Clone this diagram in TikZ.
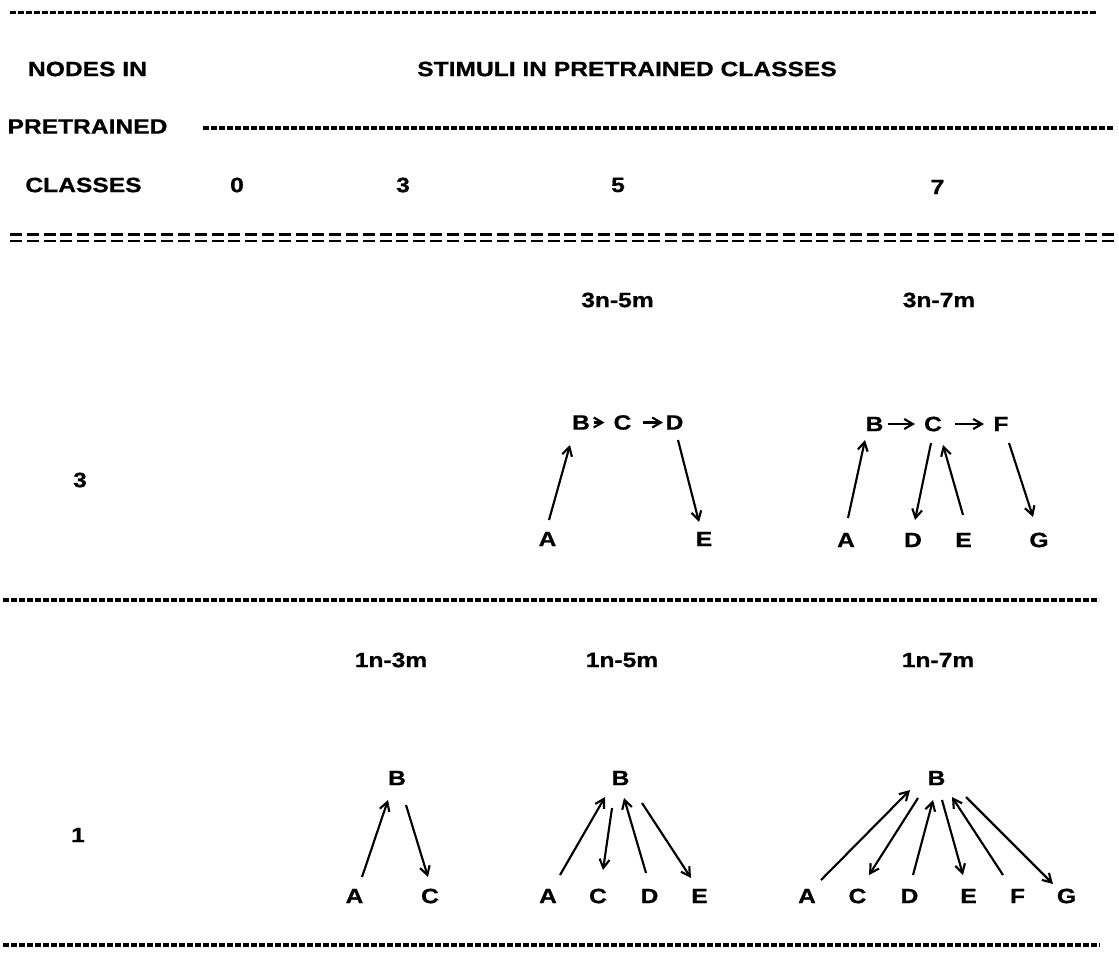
\documentclass[tikz,border=0pt]{standalone}
\usepackage{fontspec}
\setmainfont{Liberation Sans}[FakeStretch=1.19,BoldFeatures={FakeStretch=1.19,FakeBold=0.8}]
\usetikzlibrary{arrows.meta,calc}
\newcommand\myconn[4]{\draw[arr] ($(#1)+(#2)$) -- ($(#3)+(#4)$);}
\begin{document}
\begin{tikzpicture}[x=0.75pt,y=-0.75pt,
  lbl/.style={font=\fontsize{15.5}{18}\selectfont\bfseries, inner sep=0pt, text=black},
  arr/.style={-{Straight Barb[length=6.5pt,width=7.5pt,line width=1.6pt]}, line width=1.6pt},
  dline/.style={line width=2.4pt, dash pattern=on 4.6pt off 1.4pt},
  eqline/.style={line width=2pt, dash pattern=on 9pt off 3.6pt}]
\useasboundingbox (0,0) rectangle (1119,958);
\fill[white] (0,0) rectangle (1119,958);
% rules
\draw[dline] (10,12.5) -- (1097,12.5);
\draw[dline] (203,128) -- (1113,128);
\draw[eqline] (10,234.5) -- (1125,234.5);
\draw[eqline] (10,241) -- (1125,241);
\draw[dline] (3,600) -- (1099,600);
\draw[dline] (3,945) -- (1100,945);
% header
\node[lbl] (hNodes) at (87.5,69) {NODES IN};
\node[lbl] (hPre) at (87.5,126.5) {PRETRAINED};
\node[lbl] (hCls) at (83.5,185) {CLASSES};
\node[lbl] (hStim) at (627,69) {STIMULI IN PRETRAINED CLASSES};
\node[lbl] (h0) at (237,185) {0};
\node[lbl] (h3) at (403,185) {3};
\node[lbl] (h5) at (618,185) {5};
\node[lbl] (h7) at (937.5,187) {7};
% row labels
\node[lbl] (r3) at (80,480) {3};
\node[lbl] (r1) at (78,835) {1};
% row 3
\node[lbl] (t35) at (617.5,300) {3n-5m};
\node[lbl] (t37) at (939,300) {3n-7m};
\node[lbl] (p5B) at (581,422.5) {B};
\node[lbl] (p5C) at (622.5,422.5) {C};
\node[lbl] (p5D) at (674.5,422.5) {D};
\node[lbl] (p5A) at (547.5,539) {A};
\node[lbl] (p5E) at (704,539) {E};
\myconn{p5A}{1.5,-19}{p5B}{-11,22.5}
\myconn{p5B}{13,0}{p5C}{-18,0}
\myconn{p5C}{20.5,0}{p5D}{-11.5,0}
\myconn{p5D}{3.5,17.5}{p5E}{-5,-17}
\node[lbl] (q7B) at (874.5,424) {B};
\node[lbl] (q7C) at (933,424) {C};
\node[lbl] (q7F) at (1001,424) {F};
\node[lbl] (q7A) at (846,540) {A};
\node[lbl] (q7D) at (913,540) {D};
\node[lbl] (q7E) at (963.5,540) {E};
\node[lbl] (q7G) at (1039,540) {G};
\myconn{q7B}{13.5,0}{q7C}{-18,0}
\myconn{q7C}{22,0}{q7F}{-17,0}
\myconn{q7A}{2,-22}{q7B}{-9.5,16}
\myconn{q7C}{-2,19}{q7D}{2,-20}
\myconn{q7E}{-0.5,-25}{q7C}{10,21}
\myconn{q7F}{8,19}{q7G}{-6,-23}
% row 1
\node[lbl] (t13) at (391,660) {1n-3m};
\node[lbl] (t15) at (622,660) {1n-5m};
\node[lbl] (t17) at (938,660) {1n-7m};
\node[lbl] (s3B) at (397,778) {B};
\node[lbl] (s3A) at (354.5,896) {A};
\node[lbl] (s3C) at (430,896) {C};
\myconn{s3A}{7.5,-19}{s3B}{-9,22}
\myconn{s3B}{9,27}{s3C}{-2,-19}
\node[lbl] (s5B) at (620.5,778) {B};
\node[lbl] (s5A) at (548,896) {A};
\node[lbl] (s5C) at (598,896) {C};
\node[lbl] (s5D) at (649.5,896) {D};
\node[lbl] (s5E) at (699.5,896) {E};
\myconn{s5A}{12,-21}{s5B}{-15.5,19}
\myconn{s5B}{-8.5,30}{s5C}{5,-26}
\myconn{s5D}{-3.5,-23}{s5B}{3.5,20}
\myconn{s5B}{21.5,25}{s5E}{-8.5,-18}
\node[lbl] (s7B) at (936.5,778) {B};
\node[lbl] (s7A) at (807,896) {A};
\node[lbl] (s7C) at (857.5,896) {C};
\node[lbl] (s7D) at (909.5,896) {D};
\node[lbl] (s7E) at (968.5,896) {E};
\node[lbl] (s7F) at (1017.5,896) {F};
\node[lbl] (s7G) at (1066.5,896) {G};
\myconn{s7A}{14,-16}{s7B}{-26.5,12}
\myconn{s7B}{-18.5,20}{s7C}{11.5,-21}
\myconn{s7D}{3.5,-21}{s7B}{-3.5,22}
\myconn{s7B}{5.5,22}{s7E}{-5.5,-21}
\myconn{s7F}{-14.5,-21}{s7B}{15.5,19}
\myconn{s7B}{29.5,19}{s7G}{-13.5,-12}
\end{tikzpicture}
\end{document}
